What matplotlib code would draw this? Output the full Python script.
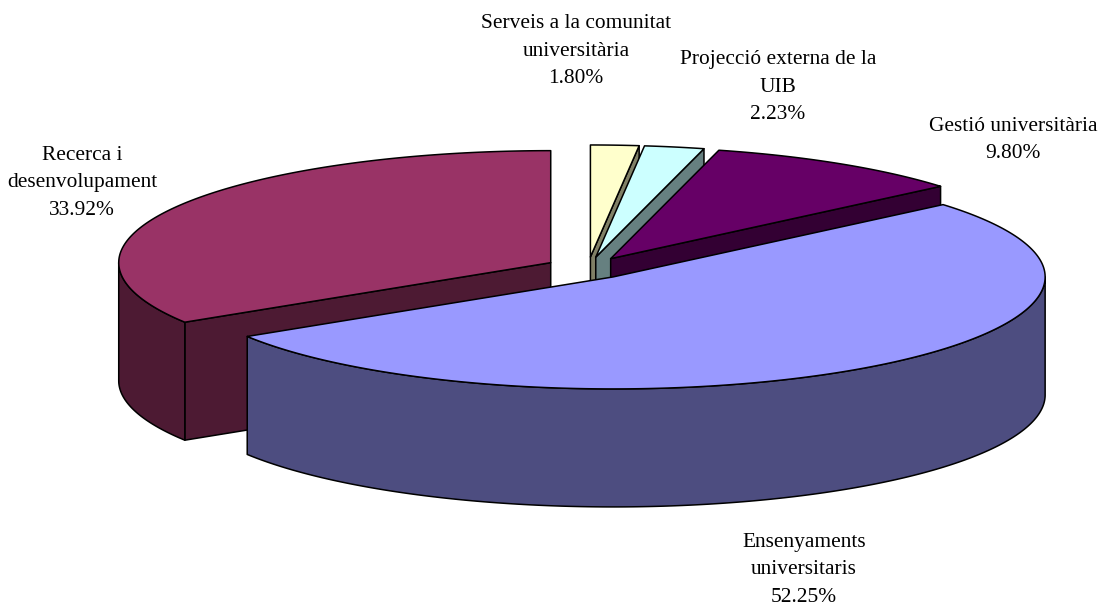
import numpy as np
import matplotlib
matplotlib.use('Agg')
import matplotlib.pyplot as plt
from matplotlib.patches import Polygon

plt.rcParams['font.family'] = ['Liberation Serif', 'DejaVu Serif']

# clockwise from 12 o'clock
labels = ['Serveis a la comunitat\nuniversitària', 'Projecció externa de la\nUIB', 'Gestió universitària',
          'Ensenyaments\nuniversitaris', 'Recerca i\ndesenvolupament']
shares = [1.80, 2.23, 9.80, 52.25, 33.92]
top_colors = ['#FFFFCC', '#CCFFFF', '#660066', '#9999FF', '#993366']
side_colors = ['#808066', '#668080', '#330033', '#4D4D80', '#4D1A33']
label_pos = [(576, 28), (778, 64), (1013, 131), (804, 547), (82, 160)]

CX, CY = 588, 268
RX, RY = 432, 112
DEPTH = 118
EXPLODE = 0.0986
LW = 1.1


def rim(center, start, end):
    t = np.radians(np.linspace(start, end, max(int(end - start) * 2, 2)))
    return np.column_stack([center[0] + RX * np.sin(t), center[1] - RY * np.cos(t)])


def add_poly(ax, pts, color):
    ax.add_patch(Polygon(pts, closed=True, facecolor=color, edgecolor='black', linewidth=LW, joinstyle='round'))


def draw_slice(ax, start, end, top, side):
    mid = np.radians((start + end) / 2)
    center = np.array([CX + EXPLODE * RX * np.sin(mid), CY - EXPLODE * RY * np.cos(mid)])
    down = np.array([0, DEPTH])

    # cut faces, only the ones turned towards the viewer
    for angle, visible in ((start, 180 < start < 360), (end, 0 < end < 180)):
        if visible:
            p = rim(center, angle, angle + 1)[0]
            add_poly(ax, [center, p, p + down, center + down], side)

    # outer wall, front half of the ellipse only
    a, b = max(start, 90), min(end, 270)
    if a < b:
        edge = rim(center, a, b)
        add_poly(ax, np.vstack([edge, edge[::-1] + down]), side)

    add_poly(ax, np.vstack([center, rim(center, start, end)]), top)


fig = plt.figure(figsize=(11, 6.05), dpi=100)
ax = fig.add_axes([0, 0, 1, 1])
ax.set_xlim(0, 1100)
ax.set_ylim(605, 0)
ax.axis('off')

stops = np.concatenate([[0], np.cumsum(shares)]) * 3.6

# back slices first, the big front one last so it covers the walls behind it
for i in [4, 0, 1, 2, 3]:
    draw_slice(ax, stops[i], stops[i + 1], top_colors[i], side_colors[i])

for i, name in enumerate(labels):
    x, y = label_pos[i]
    for n, line in enumerate(f'{name}\n{shares[i]:.2f}%'.split('\n')):
        ax.text(x, y + n * 27.5, line, ha='center', va='baseline', fontsize=15.4, color='black')

fig.savefig('out.png')
